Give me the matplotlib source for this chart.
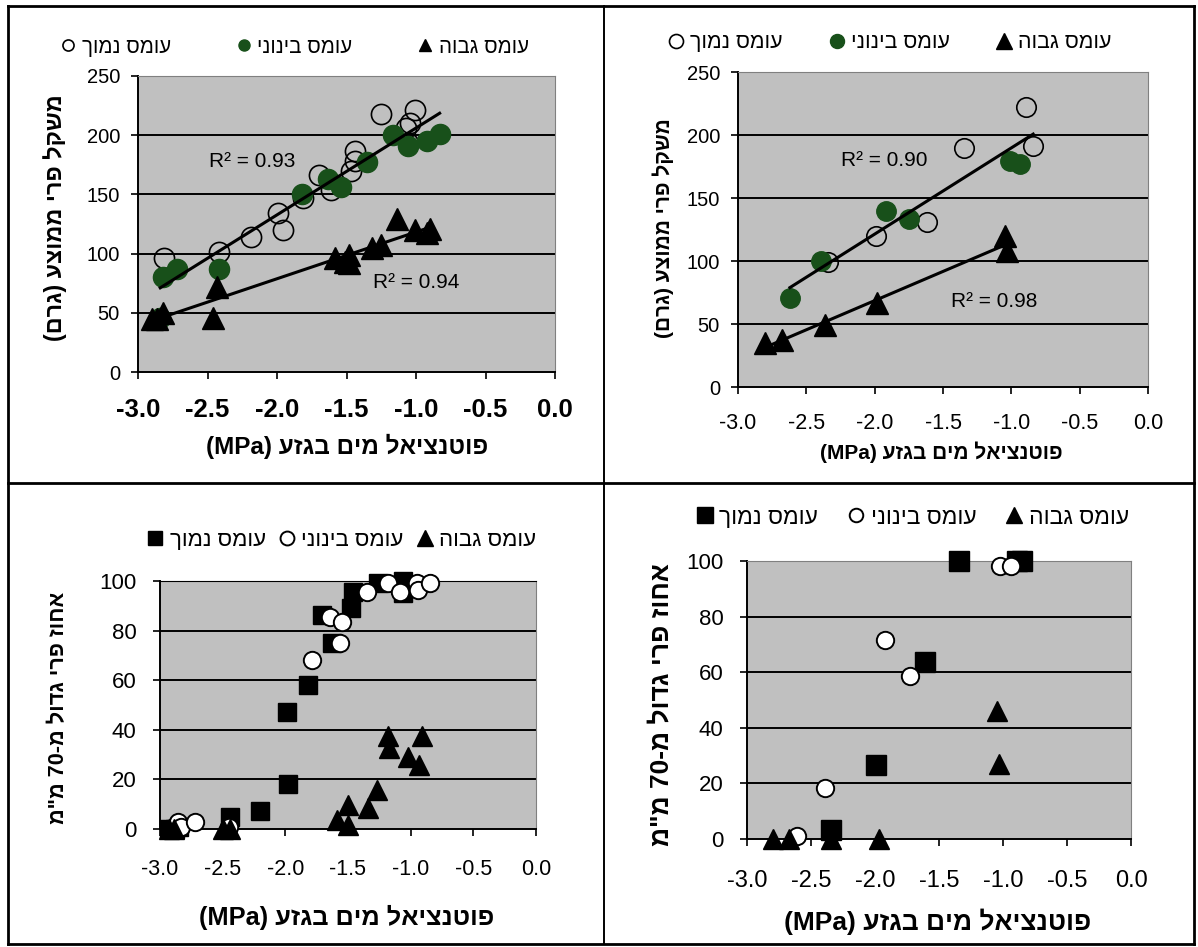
import re

import matplotlib
matplotlib.use("Agg")
import matplotlib.pyplot as plt
import numpy as np
from matplotlib.lines import Line2D

plt.rcParams["font.family"] = ["Liberation Sans", "DejaVu Sans"]

W, H = 1198, 947
GREEN = "#18501a"
PLOT_BG = "#c0c0c0"

# ---- data ----
load_names = ["עומס נמוך", "עומס בינוני", "עומס גבוה"]
x_ticks = [-3.0, -2.5, -2.0, -1.5, -1.0, -0.5, 0.0]

# top left: mean fruit weight
a_low_x = [-2.81, -2.42, -2.19, -1.99, -1.96, -1.81, -1.70, -1.615, -1.47, -1.44, -1.44, -1.25, -1.07, -1.04, -1.01, -1.06]
a_low_y = [96, 101, 114, 134, 120, 147, 166, 154, 170, 187, 178, 218, 206, 210, 221, 193]
a_mid_x = [-2.84, -2.82, -2.72, -2.42, -1.82, -1.63, -1.54, -1.35, -1.165, -1.055, -0.92, -0.83]
a_mid_y = [46, 80, 87, 87, 150, 163, 156, 177, 200, 191, 195, 201]
a_high_x = [-2.90, -2.86, -2.82, -2.46, -2.43, -1.58, -1.51, -1.48, -1.48, -1.32, -1.25, -1.14, -1.01, -0.92, -0.90]
a_high_y = [45, 45, 50, 46, 72, 96, 93, 99, 92, 105, 107, 129, 120, 117, 121]
a_r2_text = ["R² = 0.93", "R² = 0.94"]
a_r2_x = [-2.18, -1.0]
a_r2_y = [178, 76]

# top right: mean fruit weight
b_low_x = [-2.34, -1.99, -1.615, -1.35, -0.895, -0.84]
b_low_y = [99, 120, 131, 190, 222, 191]
b_mid_x = [-2.62, -2.39, -1.92, -1.75, -1.01, -0.94]
b_mid_y = [71, 100, 140, 133, 179, 177]
b_high_x = [-2.80, -2.68, -2.36, -1.98, -1.05, -1.03]
b_high_y = [35, 37, 49, 67, 120, 108]
b_r2_text = ["R² = 0.90", "R² = 0.98"]
b_r2_x = [-1.93, -1.125]
b_r2_y = [180, 67.5]

# bottom left: percent of fruit above 70 mm
c_low_x = [-2.93, -2.88, -2.85, -2.44, -2.20, -1.98, -1.99, -1.82, -1.71, -1.63, -1.48, -1.46, -1.26, -1.06, -1.06]
c_low_y = [0, 0, 1, 5, 7.4, 18, 47, 58, 86.3, 75, 89, 95.7, 99.3, 100, 95]
c_mid_x = [-2.86, -2.83, -2.72, -2.45, -1.79, -1.64, -1.55, -1.56, -1.35, -1.18, -1.085, -0.95, -0.94, -0.845]
c_mid_y = [3, 1, 3, 1, 68, 85.6, 83.6, 75, 95.7, 99, 95.7, 99, 96.4, 99.3]
c_high_x = [-2.93, -2.89, -2.50, -2.44, -1.59, -1.50, -1.50, -1.34, -1.27, -1.18, -1.17, -1.02, -0.93, -0.91]
c_high_y = [0, 0, 0, 0, 3.6, 9.7, 1.6, 8.3, 15.7, 37.3, 32.6, 29.2, 25.8, 37.3]

# bottom right: percent of fruit above 70 mm
d_low_x = [-2.34, -1.99, -1.61, -1.345, -0.89, -0.855]
d_low_y = [3.2, 26.6, 63.7, 100, 100, 100]
d_mid_x = [-2.61, -2.39, -1.92, -1.73, -1.02, -0.94]
d_mid_y = [1.2, 18.2, 71.5, 58.7, 98.2, 98.2]
d_high_x = [-2.80, -2.67, -2.34, -1.97, -1.05, -1.03]
d_high_y = [0, 0, 0, 0, 46, 27]

x_title = "פוטנציאל מים בגזע (MPa)"
weight_title = "משקל פרי ממוצע (גרם)"
big_fruit_title = 'אחוז פרי גדול מ-70 מ"מ'


def visual(text):
    # matplotlib has no bidi support: lay Hebrew out right to left by hand
    flipped = text[::-1]
    flipped = re.sub(r"[A-Za-z0-9.]+", lambda m: m.group(0)[::-1], flipped)
    return flipped.translate(str.maketrans("()", ")("))


def fx(px):
    return px / W


def fy(py):
    return 1 - py / H


def make_axes(fig, left, right, top, bottom):
    return fig.add_axes([fx(left), fy(bottom), (right - left) / W, (bottom - top) / H])


def style_axes(ax, ymax, ystep, ytick_size, ypad, xtick_size, xtick_bold, xpad, top_color):
    ax.set_facecolor(PLOT_BG)
    ax.set_xlim(-3.0, 0.0)
    ax.set_ylim(0, ymax)
    yt = np.arange(0, ymax + 1, ystep)
    ax.set_yticks(yt)
    ax.set_yticklabels([f"{v:g}" for v in yt], fontsize=ytick_size)
    ax.set_xticks(x_ticks)
    ax.set_xticklabels([f"{v + 0.0:.1f}" for v in x_ticks], fontsize=xtick_size,
                       fontweight="bold" if xtick_bold else "normal")
    for v in yt[1:]:
        ax.axhline(v, color="black", lw=1.4, zorder=0.5)
    for side in ["left", "bottom"]:
        ax.spines[side].set_color("black")
        ax.spines[side].set_linewidth(1.4)
    ax.spines["top"].set_color(top_color)
    ax.spines["right"].set_color("#808080")
    ax.tick_params(axis="both", direction="out", length=5, width=1.2, color="black")
    ax.tick_params(axis="x", pad=xpad)
    ax.tick_params(axis="y", pad=ypad)


def add_trend(ax, x, y):
    slope, intercept = np.polyfit(x, y, 1)
    xs = np.array([min(x), max(x)])
    ax.plot(xs, slope * xs + intercept, color="black", lw=2.2, zorder=6)


def add_labels(fig, ax, xlabel_pos, xsize, ylabel, ylabel_pos, ysize):
    ax.set_xlabel(visual(x_title), fontsize=xsize, fontweight="bold", va="center")
    ax.xaxis.set_label_coords(fx(xlabel_pos[0]), fy(xlabel_pos[1]), transform=fig.transFigure)
    ax.set_ylabel(visual(ylabel), fontsize=ysize, fontweight="bold", va="center")
    ax.yaxis.set_label_coords(fx(ylabel_pos[0]), fy(ylabel_pos[1]), transform=fig.transFigure)


def add_legend(fig, handles, center, size, spacing, scale):
    fig.legend(handles, [visual(n) for n in load_names], loc="center",
               bbox_to_anchor=(fx(center[0]), fy(center[1])), bbox_transform=fig.transFigure,
               ncol=3, frameon=False, fontsize=size, handlelength=0.7, handletextpad=0.3,
               columnspacing=spacing, markerscale=scale, borderpad=0)


fig = plt.figure(figsize=(W / 100, H / 100), dpi=100)

# ---- top left ----
ax = make_axes(fig, 138, 555, 76, 372)
style_axes(ax, 250, 50, 14.5, 8, 18.5, True, 13.5, "#808080")
h1, = ax.plot(a_low_x, a_low_y, "o", ms=14.5, mfc="none", mec="black", mew=1.2, zorder=3, clip_on=False)
h2, = ax.plot(a_mid_x, a_mid_y, "o", ms=14.5, color=GREEN, zorder=4, clip_on=False)
h3, = ax.plot(a_high_x, a_high_y, "^", ms=15.5, color="black", zorder=5, clip_on=False)
add_trend(ax, a_low_x + a_mid_x, a_low_y + a_mid_y)
add_trend(ax, a_high_x, a_high_y)
for t, tx, ty in zip(a_r2_text, a_r2_x, a_r2_y):
    ax.text(tx, ty, t, fontsize=15, ha="center", va="center", zorder=7)
add_labels(fig, ax, (347, 446), 17.5, weight_title, (55, 218), 16.8)
add_legend(fig, [h1, h2, h3], (295, 47), 14.8, 3.2, 0.55)

# ---- top right ----
ax = make_axes(fig, 738, 1148, 72, 387)
style_axes(ax, 250, 50, 14.5, 8, 15.5, False, 13.5, "#808080")
h1, = ax.plot(b_low_x, b_low_y, "o", ms=14, mfc="none", mec="black", mew=1.2, zorder=3, clip_on=False)
h2, = ax.plot(b_mid_x, b_mid_y, "o", ms=14, color=GREEN, zorder=4, clip_on=False)
h3, = ax.plot(b_high_x, b_high_y, "^", ms=15.5, color="black", zorder=5, clip_on=False)
add_trend(ax, b_low_x + b_mid_x, b_low_y + b_mid_y)
add_trend(ax, b_high_x, b_high_y)
for t, tx, ty in zip(b_r2_text, b_r2_x, b_r2_y):
    ax.text(tx, ty, t, fontsize=15, ha="center", va="center", zorder=7)
add_labels(fig, ax, (941, 452), 15, weight_title, (663, 228), 15)
add_legend(fig, [h1, h2, h3], (890, 43), 15.4, 2.2, 0.72)

# ---- bottom left ----
ax = make_axes(fig, 160, 536, 581, 829)
style_axes(ax, 100, 20, 16, 12, 15.5, False, 16.5, "black")
h1, = ax.plot(c_low_x, c_low_y, "s", ms=13, color="black", zorder=3, clip_on=False)
h2, = ax.plot(c_mid_x, c_mid_y, "o", ms=12.5, mfc="white", mec="black", mew=1.4, zorder=4, clip_on=False)
h3, = ax.plot(c_high_x, c_high_y, "^", ms=14, color="black", zorder=5, clip_on=False)
add_labels(fig, ax, (347, 917), 18.3, big_fruit_title, (59, 708), 15.6)
add_legend(fig, [h1, h2, h3], (342, 540), 16, 0.6, 0.8)

# ---- bottom right ----
ax = make_axes(fig, 747, 1131, 561, 839)
style_axes(ax, 100, 20, 16, 12, 17, False, 17.5, "#808080")
h1, = ax.plot(d_low_x, d_low_y, "s", ms=14, color="black", zorder=3, clip_on=False)
h2, = ax.plot(d_mid_x, d_mid_y, "o", ms=12.5, mfc="white", mec="black", mew=1.4, zorder=4, clip_on=False)
h3, = ax.plot(d_high_x, d_high_y, "^", ms=15, color="black", zorder=5, clip_on=False)
add_labels(fig, ax, (938, 922), 19, big_fruit_title, (661, 705), 19)
add_legend(fig, [h1, h2, h3], (913, 517), 16.5, 1.3, 0.78)

# ---- table borders ----
for (x0, y0, x1, y1), lw in [((8, 6, 1194, 6), 2.0), ((8, 944, 1194, 944), 2.0),
                              ((8, 6, 8, 944), 2.0), ((1194, 6, 1194, 944), 2.0),
                              ((604, 6, 604, 944), 1.4), ((8, 483, 1194, 483), 2.0)]:
    fig.add_artist(Line2D([fx(x0), fx(x1)], [fy(y0), fy(y1)], transform=fig.transFigure,
                          color="black", lw=lw))

fig.savefig("out.png", dpi=100)
